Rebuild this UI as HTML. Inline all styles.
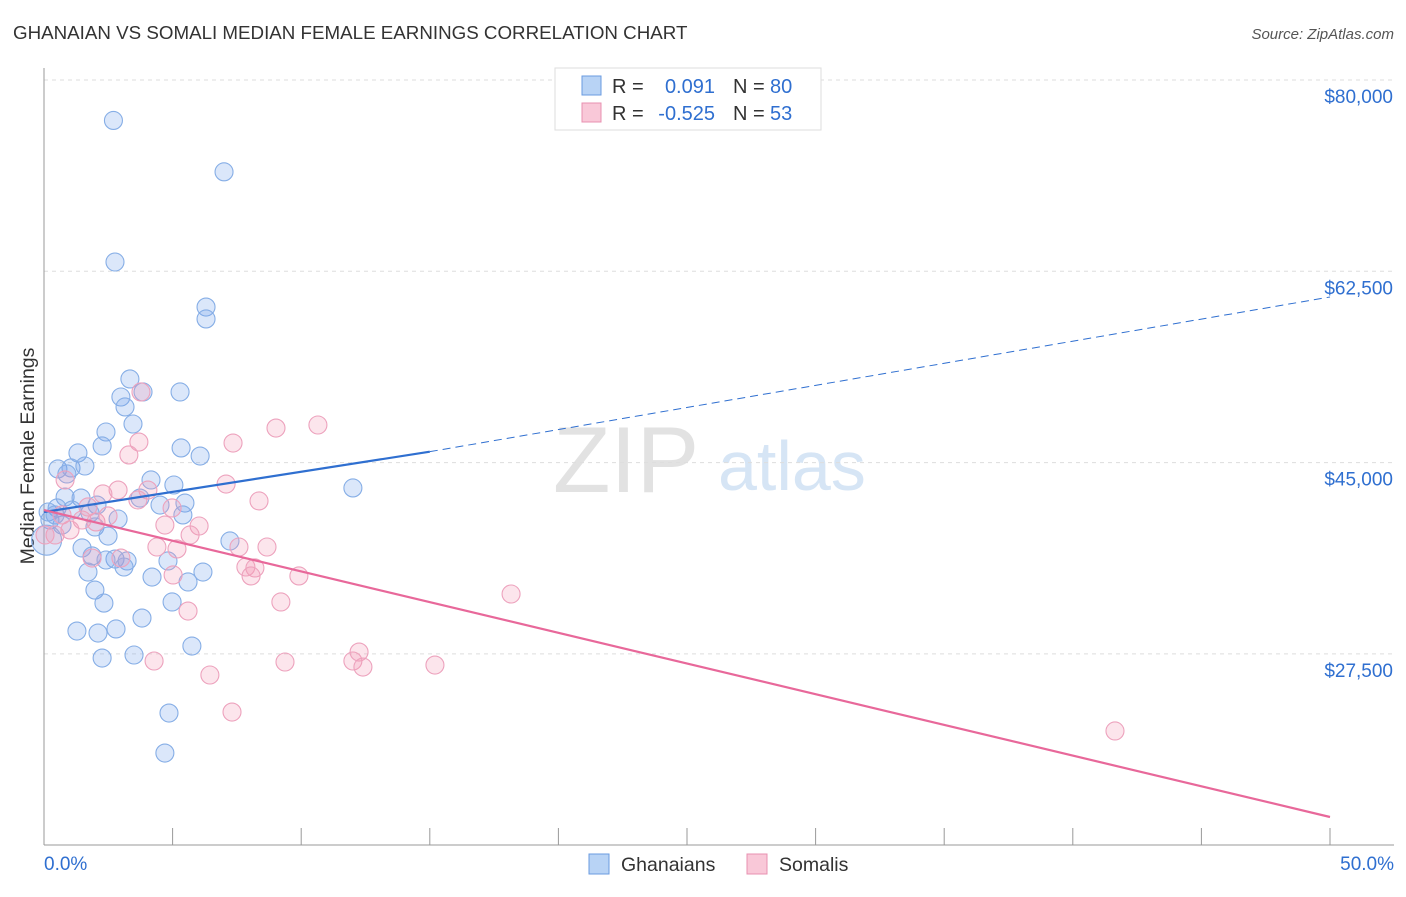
<!DOCTYPE html>
<html><head><meta charset="utf-8">
<style>
body{margin:0;background:#fff;font-family:"Liberation Sans",sans-serif;}
svg text{font-family:"Liberation Sans",sans-serif;}
</style></head>
<body>
<svg id="chart" width="1406" height="892" xmlns="http://www.w3.org/2000/svg">
<text x="13" y="39" font-size="18.75" fill="#333">GHANAIAN VS SOMALI MEDIAN FEMALE EARNINGS CORRELATION CHART</text>
<text x="1394" y="39" font-size="15" fill="#555" font-style="italic" text-anchor="end">Source: ZipAtlas.com</text>
<text x="553" y="492" font-size="94" fill="#e2e2e2" font-family="Liberation Serif">ZIP</text>
<text x="718" y="490" font-size="70" fill="#d6e5f5">atlas</text>
<text x="34" y="456" font-size="19.5" fill="#333" text-anchor="middle" transform="rotate(-90 34 456)">Median Female Earnings</text>
<g id="grid"></g><g id="axes"></g><g id="marks"></g>
<g>
<rect x="555" y="68" width="266" height="62" fill="#fff" stroke="#ddd"/>
<rect x="582" y="76" width="19" height="19" fill="#b8d3f5" stroke="#6a9be0"/>
<rect x="582" y="103" width="19" height="19" fill="#f9c8d8" stroke="#e890b0"/>
<text x="612" y="93" font-size="20" fill="#333">R =</text>
<text x="715" y="93" font-size="20" fill="#2f6fd0" text-anchor="end">0.091</text>
<text x="733" y="93" font-size="20" fill="#333">N =</text>
<text x="770" y="93" font-size="20" fill="#2f6fd0">80</text>
<text x="612" y="120" font-size="20" fill="#333">R =</text>
<text x="715" y="120" font-size="20" fill="#2f6fd0" text-anchor="end">-0.525</text>
<text x="733" y="120" font-size="20" fill="#333">N =</text>
<text x="770" y="120" font-size="20" fill="#2f6fd0">53</text>
</g>
<g>
<rect x="589" y="854" width="20" height="20" fill="#b8d3f5" stroke="#6a9be0"/>
<text x="621" y="871" font-size="19.5" fill="#333">Ghanaians</text>
<rect x="747" y="854" width="20" height="20" fill="#f9c8d8" stroke="#e890b0"/>
<text x="779" y="871" font-size="19.5" fill="#333">Somalis</text>
</g>
</svg>
<script>
const yTicks=[80000,62500,45000,27500];
const yTickLabels=["$80,000","$62,500","$45,000","$27,500"];
const xTickLabels=["0.0%","50.0%"];
const blueX=[2.7,7.0,2.76,6.3,6.3,3.34,5.29,2.99,3.15,3.85,3.46,2.41,2.26,1.32,0.54,1.05,1.59,0.89,5.33,6.07,4.16,5.05,12.01,0.82,1.44,2.06,3.73,4.51,5.48,0.51,1.09,1.79,2.88,5.40,0.23,0.70,1.98,2.49,7.23,1.48,0.1,1.87,2.76,3.23,2.41,4.82,1.71,3.11,4.20,6.18,5.60,1.98,2.33,4.98,3.81,1.28,2.80,2.10,5.75,3.50,2.26,4.86,4.70,0.16,0.43];
const blueY=[76300,71600,63350,59230,58140,52650,51460,51000,50090,51460,48530,47800,46520,45880,44420,44510,44690,43960,46340,45600,43410,42950,42680,41850,41760,41120,41760,41120,41300,40850,40660,40390,39840,40210,39750,39290,39110,38280,37830,37190,37900,36460,36180,36000,36090,36000,34990,35450,34530,34990,34080,33340,32150,32250,30780,29590,29780,29410,28220,27400,27120,22090,18430,40480,40210];
const pinkX=[3.77,3.69,3.30,7.35,9.02,10.65,0.82,2.88,4.04,7.08,8.36,2.29,3.65,4.98,6.03,4.70,5.68,0.70,1.48,2.02,0.43,1.01,4.39,5.17,7.58,8.67,1.87,2.99,7.85,8.20,8.05,9.91,5.02,5.60,9.21,18.16,4.28,9.37,12.01,12.25,12.40,15.20,6.45,7.31,41.64,0.04,1.71,2.49];
const pinkY=[51460,46880,45700,46790,48160,48440,43410,42490,42490,43040,41490,42130,41580,40850,39200,39290,38380,40210,39750,39570,38380,38840,37280,37100,37280,37280,36270,36270,35450,35360,34630,34630,34720,31420,32250,32980,26850,26760,26850,27670,26300,26480,25570,22180,20450,38380,40940,40120];
const blueTrend=[[0,40480],[15,46000],[50,60150]];
const pinkTrend=[[0,40660],[50,12580]];
const NS="http://www.w3.org/2000/svg";
const xs=v=>44+v/50*1286;
const ys=v=>80+(80000-v)/17500*191.3;
function mk(tag,attrs,parent){const e=document.createElementNS(NS,tag);for(const k in attrs)e.setAttribute(k,attrs[k]);parent.appendChild(e);return e;}
const grid=document.getElementById('grid'),axes=document.getElementById('axes'),marks=document.getElementById('marks');
yTicks.forEach((t,i)=>{
  const l=mk('line',{x1:44,x2:1394,y1:ys(t),y2:ys(t),stroke:'#ddd','stroke-dasharray':'4 4'},grid);
  
  
  const tx=mk('text',{x:1393,y:ys(t)+23,'font-size':19,fill:'#2f6fd0','text-anchor':'end'},axes);
  tx.textContent=yTickLabels[i];
  
  
});
const ax=mk('line',{x1:44,x2:44,y1:68,y2:845,stroke:'#999'},axes);


const bx=mk('line',{x1:44,x2:1394,y1:845,y2:845,stroke:'#999'},axes);


for(let i=0;i<=10;i++){const tk=mk('line',{x1:xs(i*5),x2:xs(i*5),y1:828,y2:845,stroke:'#999'},axes);

}
[[0,'start',44],[1,'end',1394]].forEach(([i,a,x])=>{const t=mk('text',{x:x,y:870,'font-size':19,fill:'#2f6fd0','text-anchor':a},axes);t.textContent=xTickLabels[i];

});
blueX.forEach((x,i)=>{const c=mk('circle',{cx:xs(x),cy:ys(blueY[i]),r:i==40?15:9,fill:'rgba(110,160,235,0.25)',stroke:'#86aee6','stroke-width':1.1},marks);

});
pinkX.forEach((x,i)=>{const c=mk('circle',{cx:xs(x),cy:ys(pinkY[i]),r:9,fill:'rgba(245,150,180,0.25)',stroke:'#eda2bd','stroke-width':1.1},marks);

});
const b1=mk('line',{x1:xs(blueTrend[0][0]),y1:ys(blueTrend[0][1]),x2:xs(blueTrend[1][0]),y2:ys(blueTrend[1][1]),stroke:'#2f6fd0','stroke-width':2.2},marks);


const b2=mk('line',{x1:xs(blueTrend[1][0]),y1:ys(blueTrend[1][1]),x2:xs(blueTrend[2][0]),y2:ys(blueTrend[2][1]),stroke:'#2f6fd0','stroke-width':1,'stroke-dasharray':'8 5'},marks);


const p1=mk('line',{x1:xs(pinkTrend[0][0]),y1:ys(pinkTrend[0][1]),x2:xs(pinkTrend[1][0]),y2:ys(pinkTrend[1][1]),stroke:'#e8689a','stroke-width':2.2},marks);


</script>
</body></html>
